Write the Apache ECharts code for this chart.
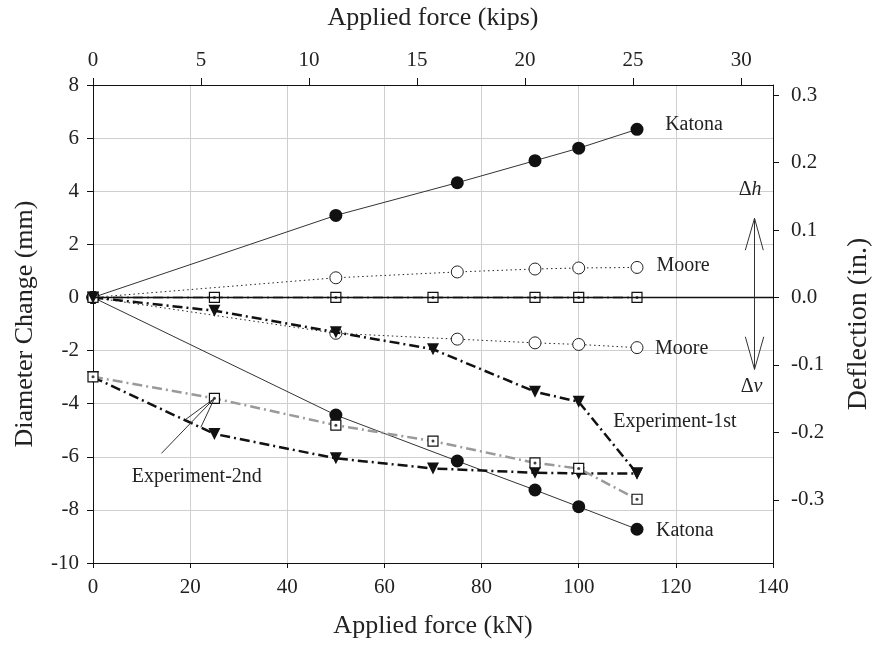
<!DOCTYPE html>
<html>
<head>
<meta charset="utf-8">
<script src="https://cdn.jsdelivr.net/npm/echarts@6/dist/echarts.min.js"></script>
<style>
  html, body { margin: 0; padding: 0; background: #fff; }
  #chart { width: 874px; height: 645px; }
</style>
</head>
<body>
<div id="chart"></div>
<script>
const KN_PER_KIP = 4.448;
const MM_PER_IN = 25.4;

// theory curves (kN / mm)
const forceTheory = [0, 50, 75, 91, 100, 112];
const katonaH = [0, 3.09, 4.32, 5.15, 5.62, 6.33];
const katonaV = [0, -4.43, -6.16, -7.25, -7.88, -8.73];
const mooreH = [0, 0.74, 0.96, 1.07, 1.11, 1.13];
const mooreV = [0, -1.35, -1.57, -1.71, -1.77, -1.89];

// experiments (kN / mm)
const forceExp = [0, 25, 50, 70, 91, 100, 112];
const exp1stSquare = [0, 0, 0, 0, 0, 0, 0];
const exp1stTriangle = [0, -0.5, -1.31, -1.95, -3.55, -3.93, -6.63];
const exp2ndSquare = [-2.99, -3.80, -4.81, -5.41, -6.23, -6.44, -7.60];
const exp2ndTriangle = [-3.0, -5.14, -6.06, -6.44, -6.6, -6.63, -6.63];

// secondary axis ticks
const inchTicks = [-0.3, -0.2, -0.1, 0, 0.1, 0.2, 0.3];

// annotation lines in data coords [kN, mm]
const calloutLines = [
  [[14.1, -5.87], [25, -3.8]],
  [[19.1, -4.59], [25, -3.8]],
  [[22.2, -4.89], [25, -3.8]],
  [[136.2, 0], [136.2, 2.98]],
  [[136.2, 2.98], [134.3, 1.78]],
  [[136.2, 2.98], [138.0, 1.78]],
  [[136.2, 0], [136.2, -2.71]],
  [[136.2, -2.71], [134.3, -1.48]],
  [[136.2, -2.71], [138.1, -1.48]]
];

const curveLabels = [
  { text: "Katona", at: [117.8, 6.49] },
  { text: "Moore", at: [116.0, 1.19] },
  { text: "Moore", at: [115.7, -1.92] },
  { text: "Experiment-1st", at: [107.1, -4.68] },
  { text: "Katona", at: [115.9, -8.79] },
  { text: "Experiment-2nd", at: [8.0, -6.75] }
];

const FONT = "Liberation Serif";
const TXT = "#222";
const DASHDOT = [10, 4, 2, 4];

function pairs(xs, ys) {
  return xs.map((x, i) => [x, ys[i]]);
}

const chart = echarts.init(document.getElementById("chart"));

function squareSeries(ys) {
  return [
    {
      type: "line",
      data: pairs(forceExp, ys),
      symbol: "rect",
      symbolSize: 10,
      itemStyle: { color: "#fff", borderColor: "#111", borderWidth: 1.2 },
      lineStyle: { color: "#9a9a9a", width: 2.5, type: DASHDOT },
      z: 3
    },
    {
      type: "scatter",
      data: pairs(forceExp, ys),
      symbol: "circle",
      symbolSize: 3,
      itemStyle: { color: "#111" },
      z: 4
    }
  ];
}

function triangleSeries(ys) {
  return {
    type: "line",
    data: pairs(forceExp, ys),
    symbol: "triangle",
    symbolRotate: 180,
    symbolSize: 12,
    itemStyle: { color: "#111" },
    lineStyle: { color: "#111", width: 2.5, type: DASHDOT },
    z: 3
  };
}

function katonaSeries(ys) {
  return {
    type: "line",
    data: pairs(forceTheory, ys),
    symbol: "circle",
    symbolSize: 13,
    itemStyle: { color: "#111" },
    lineStyle: { color: "#333", width: 1 },
    z: 2
  };
}

function mooreSeries(ys) {
  return {
    type: "line",
    data: pairs(forceTheory, ys),
    symbol: "circle",
    symbolSize: 12,
    itemStyle: { color: "#fff", borderColor: "#222", borderWidth: 1 },
    lineStyle: { color: "#222", width: 1, type: [1.5, 3] },
    z: 2
  };
}

const option = {
  animation: false,
  textStyle: { fontFamily: FONT },
  grid: { left: 93, right: 101, top: 85, bottom: 82, outerBoundsMode: "none", containLabel: false },
  xAxis: [
    {
      type: "value",
      min: 0, max: 140, interval: 20,
      name: "Applied force (kN)",
      nameLocation: "middle",
      nameGap: 50,
      nameTextStyle: { fontFamily: FONT, fontSize: 26, color: TXT },
      axisLine: { onZero: false, lineStyle: { color: "#111" } },
      axisTick: { length: 5, lineStyle: { color: "#111" } },
      axisLabel: { fontFamily: FONT, fontSize: 21, color: TXT, margin: 14 },
      splitLine: { lineStyle: { color: "#cfcfcf" } }
    },
    {
      type: "value",
      position: "top",
      min: 0, max: 140 / KN_PER_KIP, interval: 5,
      name: "Applied force (kips)",
      nameLocation: "middle",
      nameGap: 54,
      nameTextStyle: { fontFamily: FONT, fontSize: 26, color: TXT },
      axisLine: { onZero: false, lineStyle: { color: "#111" } },
      axisTick: { length: 7, lineStyle: { color: "#111" } },
      axisLabel: { fontFamily: FONT, fontSize: 21, color: TXT, margin: 14, showMaxLabel: false },
      splitLine: { show: false }
    }
  ],
  yAxis: [
    {
      type: "value",
      min: -10, max: 8, interval: 2,
      name: "Diameter Change (mm)",
      nameLocation: "middle",
      nameGap: 55,
      nameTextStyle: { fontFamily: FONT, fontSize: 26, color: TXT },
      axisLine: { onZero: false, lineStyle: { color: "#111" } },
      axisTick: { length: 6, lineStyle: { color: "#111" } },
      axisLabel: { fontFamily: FONT, fontSize: 21, color: TXT, margin: 14 },
      splitLine: { lineStyle: { color: "#cfcfcf" } }
    },
    {
      type: "value",
      position: "right",
      min: -10 / MM_PER_IN, max: 8 / MM_PER_IN,
      name: "Deflection (in.)",
      nameLocation: "middle",
      nameGap: 72,
      nameRotate: 90,
      nameTextStyle: { fontFamily: FONT, fontSize: 28, color: TXT },
      axisLine: { onZero: false, lineStyle: { color: "#111" } },
      axisTick: { length: 6, customValues: inchTicks, lineStyle: { color: "#111" } },
      axisLabel: {
        fontFamily: FONT, fontSize: 21, color: TXT, margin: 18,
        customValues: inchTicks,
        formatter: (v) => (Math.abs(v) < 1e-9 ? 0 : v).toFixed(1)
      },
      splitLine: { show: false }
    }
  ],
  series: [
    ...squareSeries(exp1stSquare),
    {
      type: "line",
      data: [],
      silent: true,
      markLine: {
        silent: true,
        symbol: "none",
        label: { show: false },
        lineStyle: { color: "#111", width: 1.3, type: "solid" },
        data: [{ yAxis: 0 }]
      }
    },
    triangleSeries(exp1stTriangle),
    triangleSeries(exp2ndTriangle),
    ...squareSeries(exp2ndSquare),
    mooreSeries(mooreH),
    mooreSeries(mooreV),
    katonaSeries(katonaH),
    katonaSeries(katonaV),
    {
      type: "lines",
      coordinateSystem: "cartesian2d",
      silent: true,
      data: calloutLines.map((c) => ({ coords: c })),
      lineStyle: { color: "#333", width: 1, opacity: 1 },
      z: 5
    }
  ]
};

chart.setOption(option);

const graphics = curveLabels.map((l) => {
  const p = chart.convertToPixel({ gridIndex: 0 }, l.at);
  return {
    type: "text",
    x: p[0], y: p[1],
    style: {
      text: l.text,
      font: "20px '" + FONT + "'",
      fill: TXT,
      align: "left",
      verticalAlign: "middle"
    },
    z: 10
  };
});

[["h", [135.3, 4.07]], ["v", [135.6, -3.36]]].forEach(([sym, at]) => {
  const p = chart.convertToPixel({ gridIndex: 0 }, at);
  graphics.push({
    type: "text",
    x: p[0], y: p[1],
    style: {
      text: "{a|Δ}{b|" + sym + "}",
      align: "center",
      verticalAlign: "middle",
      rich: {
        a: { fontFamily: FONT, fontSize: 20, fill: TXT },
        b: { fontFamily: FONT, fontSize: 20, fontStyle: "italic", fill: TXT }
      }
    },
    z: 10
  });
});

chart.setOption({ graphic: graphics });
</script>
</body>
</html>
